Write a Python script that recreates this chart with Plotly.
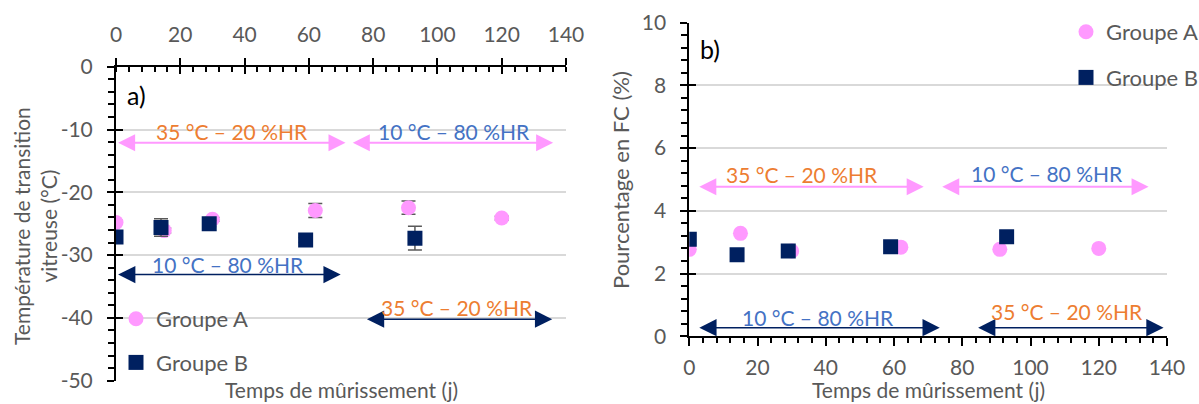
import plotly.graph_objects as go

# ---------------- data ----------------
days_A = [0, 15, 30, 62, 91, 120]
days_B = [0, 14, 29, 59, 93]

tg_A = [-24.8, -26.1, -24.3, -22.9, -22.45, -24.1]
tg_A_err = [0.3, 0.4, 0.3, 1.1, 1.05, 0.3]
tg_B = [-27.1, -25.6, -25.0, -27.6, -27.3]
tg_B_err = [0.4, 1.4, 0.5, 0.4, 1.9]

fc_A = [2.77, 3.28, 2.72, 2.84, 2.77, 2.80]
fc_B = [3.09, 2.60, 2.72, 2.85, 3.17]

x_ticks = [0, 20, 40, 60, 80, 100, 120, 140]
tg_ticks = [0, -10, -20, -30, -40, -50]
tg_ticktext = ["0", "-10", "-20", "-30", "-40", "-50"]
fc_ticks = [0, 2, 4, 6, 8, 10]

cond_hot = "35 °C – 20 %HR"
cond_cold = "10 °C – 80 %HR"
series_names = ["Groupe A", "Groupe B"]

# ---------------- style ----------------
FONT = "Lato"
PINK = "#FF99FF"
NAVY = "#002060"
ORANGE = "#ED7D31"
BLUE = "#4472C4"
GRAY = "#595959"
GRID = "#D9D9D9"

W, H = 1199, 404
def px_x(p):
    return p / W
def px_y(p):
    return (H - p) / H

dom_ax = [px_x(116), px_x(566)]
dom_ay = [px_y(380.7), px_y(66.7)]
dom_bx = [px_x(689.3), px_x(1167)]
dom_by = [px_y(336.2), px_y(22.7)]

fig = go.Figure()

err_style = dict(type="data", color=GRAY, thickness=1.5, width=7, visible=True)

# Panel a
fig.add_trace(go.Scatter(x=days_A, y=tg_A, mode="markers", name=series_names[0],
                         marker=dict(symbol="circle", size=15, color=PINK),
                         error_y=dict(array=tg_A_err, **err_style),
                         xaxis="x", yaxis="y", legend="legend", legendgroup="a1"))
fig.add_trace(go.Scatter(x=days_B, y=tg_B, mode="markers", name=series_names[1],
                         marker=dict(symbol="square", size=15, color=NAVY),
                         error_y=dict(array=tg_B_err, **err_style),
                         xaxis="x", yaxis="y", legend="legend", legendgroup="a2"))
# Panel b
fig.add_trace(go.Scatter(x=days_A, y=fc_A, mode="markers", name=series_names[0],
                         marker=dict(symbol="circle", size=15, color=PINK),
                         xaxis="x2", yaxis="y2", legend="legend2", legendgroup="b1"))
fig.add_trace(go.Scatter(x=days_B, y=fc_B, mode="markers", name=series_names[1],
                         marker=dict(symbol="square", size=15, color=NAVY),
                         xaxis="x2", yaxis="y2", legend="legend2", legendgroup="b2"))
# invisible carriers for the overlay (crossing-tick) axes
fig.add_trace(go.Scatter(x=[], y=[], xaxis="x3", yaxis="y3", showlegend=False))
fig.add_trace(go.Scatter(x=[], y=[], xaxis="x4", yaxis="y4", showlegend=False))

tickfont = dict(family=FONT, size=21, color=GRAY)

common_x = dict(range=[0, 140], tickvals=x_ticks, showgrid=False, zeroline=False,
                showline=True, linecolor="black", linewidth=2, tickcolor="black",
                tickwidth=2, fixedrange=True, automargin=False)

fig.update_layout(
    width=W, height=H, margin=dict(l=0, r=0, t=0, b=0, autoexpand=False),
    paper_bgcolor="white", plot_bgcolor="white",
    font=dict(family=FONT, color=GRAY),
    showlegend=True,
    xaxis=dict(domain=dom_ax, anchor="y", side="top", ticks="outside", ticklen=7,
               tickfont=tickfont, ticklabelstandoff=7,
               minor=dict(dtick=4, ticks="inside", ticklen=5, tickwidth=2, tickcolor="black"),
               **common_x),
    yaxis=dict(domain=dom_ay, anchor="x", range=[-50, 0], tickvals=tg_ticks,
               ticktext=tg_ticktext,
               showgrid=True, gridcolor=GRID, gridwidth=1.5, zeroline=False,
               showline=True, linecolor="black", linewidth=2, ticks="outside", ticklen=7,
               tickcolor="black", tickwidth=2, tickfont=tickfont, ticklabelstandoff=10,
               minor=dict(dtick=2, ticks="outside", ticklen=6, tickwidth=2, tickcolor="black",
                          showgrid=False),
               fixedrange=True, automargin=False),
    xaxis3=dict(overlaying="x", anchor="y", side="top", range=[0, 140], tickvals=x_ticks,
                ticks="inside", ticklen=7, tickwidth=2, tickcolor="black", automargin=False,
                showticklabels=False, showgrid=False, zeroline=False, showline=False),
    yaxis3=dict(overlaying="y", anchor="x", side="left", range=[-50, 0], tickvals=tg_ticks,
                ticks="inside", ticklen=7, tickwidth=2, tickcolor="black", automargin=False,
                showticklabels=False, showgrid=False, zeroline=False, showline=False),
    xaxis2=dict(domain=dom_bx, anchor="y2", side="bottom", ticks="outside", ticklen=8,
                tickfont=tickfont, ticklabelstandoff=4,
                minor=dict(dtick=4, ticks="outside", ticklen=5, tickwidth=2, tickcolor="black"),
                **common_x),
    yaxis2=dict(domain=dom_by, anchor="x2", range=[0, 10], tickvals=fc_ticks,
                showgrid=True, gridcolor=GRID, gridwidth=1.5, zeroline=False,
                showline=True, linecolor="black", linewidth=2, ticks="outside", ticklen=7,
                tickcolor="black", tickwidth=2, tickfont=tickfont, ticklabelstandoff=10,
                minor=dict(dtick=0.4, ticks="outside", ticklen=6, tickwidth=2, tickcolor="black",
                           showgrid=False),
                fixedrange=True, automargin=False),
    xaxis4=dict(overlaying="x2", anchor="y4", range=[0, 140], visible=False, automargin=False),
    yaxis4=dict(overlaying="y2", anchor="x2", side="left", range=[0, 10], tickvals=fc_ticks,
                ticks="inside", ticklen=7, tickwidth=2, tickcolor="black", automargin=False,
                showticklabels=False, showgrid=False, zeroline=False, showline=False),
    legend=dict(x=px_x(116), y=px_y(298), xanchor="left", yanchor="top",
                font=dict(family=FONT, size=22, color=GRAY), bgcolor="rgba(0,0,0,0)",
                traceorder="grouped", tracegroupgap=12, itemclick=False),
    legend2=dict(x=px_x(1066), y=px_y(11), xanchor="left", yanchor="top",
                 font=dict(family=FONT, size=22, color=GRAY), bgcolor="rgba(0,0,0,0)",
                 traceorder="grouped", tracegroupgap=14, itemclick=False),
)

ann = []
def arrow(xr, yr, x0, x1, y, color, width, size):
    ann.append(dict(xref=xr, yref=yr, axref=xr, ayref=yr, x=x1, y=y, ax=x0, ay=y,
                    text="", showarrow=True, arrowhead=2, startarrowhead=2,
                    arrowside="end+start", arrowsize=size, startarrowsize=size,
                    arrowwidth=width, arrowcolor=color))
def label(xr, yr, x, y, text, color, size=21, yanchor="middle"):
    ann.append(dict(xref=xr, yref=yr, x=x, y=y, text=text, showarrow=False,
                    font=dict(family=FONT, size=size, color=color),
                    xanchor="center", yanchor=yanchor))

# Panel a arrows & labels
arrow("x", "y", 0.2, 71.4, -12.1, PINK, 2, 1.7)
arrow("x", "y", 73.2, 136, -12.1, PINK, 2, 1.7)
arrow("x", "y", 0.2, 69.9, -33.1, NAVY, 1.5, 2.3)
arrow("x", "y", 77.6, 135.7, -40.2, NAVY, 1.5, 2.3)
label("x", "y", 36.2, -10.3, cond_hot, ORANGE)
label("x", "y", 105, -10.3, cond_cold, BLUE)
label("x", "y", 34.8, -31.5, cond_cold, BLUE)
label("x", "y", 106, -38.4, cond_hot, ORANGE)

# Panel b arrows & labels
arrow("x2", "y2", 2.5, 68.7, 4.77, PINK, 2, 1.7)
arrow("x2", "y2", 73.7, 134.6, 4.77, PINK, 2, 1.7)
arrow("x2", "y2", 2.5, 73.4, 0.27, NAVY, 1.5, 2.3)
arrow("x2", "y2", 84.2, 139, 0.27, NAVY, 1.5, 2.3)
label("x2", "y2", 33.1, 5.15, cond_hot, ORANGE)
label("x2", "y2", 104.9, 5.2, cond_cold, BLUE)
label("x2", "y2", 37.6, 0.6, cond_cold, BLUE)
label("x2", "y2", 110.7, 0.8, cond_hot, ORANGE)

# Panel tags and axis titles
label("paper", "paper", px_x(136), px_y(95), "a)", "black", 25)
label("paper", "paper", px_x(710), px_y(49), "b)", "black", 25)
label("paper", "paper", px_x(341), px_y(404), "Temps de mûrissement (j)", GRAY, 21, "bottom")
label("paper", "paper", px_x(928), px_y(404), "Temps de mûrissement (j)", GRAY, 21, "bottom")
ann.append(dict(xref="paper", yref="paper", x=px_x(35), y=px_y(226), textangle=-90,
                text="Température de transition<br>vitreuse (°C)", showarrow=False,
                font=dict(family=FONT, size=21, color=GRAY), xanchor="center", yanchor="middle"))
ann.append(dict(xref="paper", yref="paper", x=px_x(621), y=px_y(180), textangle=-90,
                text="Pourcentage en FC (%)", showarrow=False,
                font=dict(family=FONT, size=22, color=GRAY), xanchor="center", yanchor="middle"))

fig.update_layout(annotations=ann)

fig.write_html(
    "out.html",
    config={"displayModeBar": False},
    post_script="document.body.style.margin='0';document.body.style.padding='0';"
                "document.body.style.overflow='hidden';",
)
